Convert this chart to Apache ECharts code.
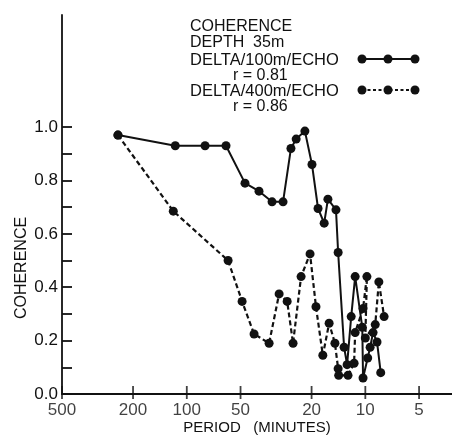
<!DOCTYPE html>
<html><head><meta charset="utf-8">
<script src="https://cdn.jsdelivr.net/npm/echarts@6/dist/echarts.min.js"></script>
<style>html,body{margin:0;padding:0;background:#fff}#c{width:452px;height:439px}</style>
</head><body><div id="c"></div>
<script>
// ---- data ----
const periods100 = [243, 116, 79, 60.3, 47.2, 39.4, 33.3, 28.9, 26.1, 24.4, 21.8, 19.9, 18.4, 17.0, 16.2, 14.6, 14.2, 13.15, 12.65, 12.0, 11.4, 10.4, 10.3, 9.7, 9.4, 9.05, 8.6, 8.2];
const coh100    = [0.97, 0.93, 0.93, 0.93, 0.79, 0.76, 0.72, 0.72, 0.92, 0.955, 0.985, 0.86, 0.695, 0.64, 0.73, 0.69, 0.53, 0.175, 0.11, 0.29, 0.44, 0.25, 0.06, 0.135, 0.175, 0.23, 0.195, 0.08];
const periods400 = [243, 119, 58.7, 49.0, 42.0, 34.6, 30.4, 27.4, 25.4, 22.9, 20.4, 18.9, 17.3, 15.95, 14.8, 14.2, 14.1, 12.5, 11.56, 11.4, 10.3, 9.8, 10.0, 8.8, 8.4, 7.85];
const coh400    = [0.97, 0.685, 0.50, 0.347, 0.225, 0.19, 0.375, 0.347, 0.19, 0.44, 0.525, 0.327, 0.145, 0.265, 0.19, 0.095, 0.07, 0.07, 0.115, 0.23, 0.32, 0.44, 0.21, 0.26, 0.42, 0.29];
const xTickValues = [500, 200, 100, 50, 20, 10, 5];
const yTickValues = [0, 0.1, 0.2, 0.3, 0.4, 0.5, 0.6, 0.7, 0.8, 0.9, 1.0];
const yLabelValues = [0, 0.2, 0.4, 0.6, 0.8, 1.0];
const headerLines = ['COHERENCE', 'DEPTH  35m'];
const seriesNames = ['DELTA/100m/ECHO', 'DELTA/400m/ECHO'];
const rLabels = ['r = 0.81', 'r = 0.86'];
const yAxisTitle = 'COHERENCE';
const xAxisTitle = 'PERIOD   (MINUTES)';

const FONT = '"Liberation Sans", Arial, sans-serif';
const INK = '#111';

const chart = echarts.init(document.getElementById('c'), null, {renderer: 'canvas'});

function legendSample(y, dashed) {
  const xs = [362, 388, 415];
  const els = [{
    type: 'line', shape: {x1: xs[0], y1: y, x2: xs[2], y2: y},
    style: {stroke: INK, lineWidth: dashed ? 2 : 1.9, lineDash: dashed ? [3, 2.5] : null}
  }];
  xs.forEach(x => els.push({type: 'circle', shape: {cx: x, cy: y, r: 4.5}, style: {fill: INK}}));
  return els;
}

const textStyle = (t, x, y, extra) => Object.assign({
  type: 'text', x: x, y: y,
  style: {text: t, font: '16px ' + FONT, fill: INK, textVerticalAlign: 'middle'}
}, extra || {});

const graphics = [
  textStyle(headerLines[0], 190, 27),
  textStyle(headerLines[1], 190, 43),
  {type: 'text', x: 190, y: 60, style: {text: seriesNames[0], font: '16.5px ' + FONT, fill: INK, textVerticalAlign: 'middle'}},
  textStyle(rLabels[0], 233, 76),
  {type: 'text', x: 190, y: 91, style: {text: seriesNames[1], font: '16.5px ' + FONT, fill: INK, textVerticalAlign: 'middle'}},
  textStyle(rLabels[1], 233, 107),
  ...legendSample(59, false),
  ...legendSample(90, true),
  {type: 'text', x: 22, y: 268, rotation: Math.PI / 2,
   style: {text: yAxisTitle, font: '16px ' + FONT, fill: INK, textAlign: 'center', textVerticalAlign: 'middle'}},
  {type: 'text', x: 257, y: 428,
   style: {text: xAxisTitle, font: '15px ' + FONT, fill: INK, textAlign: 'center', textVerticalAlign: 'middle'}}
];

const option = {
  animation: false,
  backgroundColor: '#fff',
  grid: {left: 62, right: 0, top: 15, bottom: 45, containLabel: false},
  xAxis: {
    type: 'log', logBase: 10, min: 3.27, max: 500, inverse: true,
    axisLine: {show: true, lineStyle: {color: INK, width: 1.8}},
    axisTick: {show: false}, axisLabel: {show: false},
    splitLine: {show: false}, minorTick: {show: false}
  },
  yAxis: {
    type: 'value', min: 0, max: 1.42,
    axisLine: {show: true, lineStyle: {color: INK, width: 1.8}},
    axisTick: {show: true, inside: true, length: 10, customValues: yTickValues, lineStyle: {color: INK, width: 1.8}},
    axisLabel: {show: true, customValues: yLabelValues, formatter: v => Number(v).toFixed(1),
                fontSize: 17, fontFamily: FONT, color: INK, margin: 4},
    splitLine: {show: false}
  },
  graphic: graphics,
  series: [
    {
      name: seriesNames[0], type: 'line',
      data: periods100.map((p, i) => [p, coh100[i]]),
      symbol: 'circle', symbolSize: 9, showSymbol: true,
      itemStyle: {color: INK},
      lineStyle: {color: INK, width: 2, type: 'solid'},
      z: 3
    },
    {
      name: seriesNames[1], type: 'line',
      data: periods400.map((p, i) => [p, coh400[i]]),
      symbol: 'circle', symbolSize: 9, showSymbol: true,
      itemStyle: {color: INK},
      lineStyle: {color: INK, width: 2.2, type: [5, 3]},
      z: 3
    },
    {
      name: 'xticks', type: 'scatter', silent: true, clip: false,
      data: xTickValues.map(v => [v, 0]),
      symbol: 'rect', symbolSize: [1.8, 13], symbolOffset: [0, -1.5],
      itemStyle: {color: INK},
      label: {show: true, position: 'bottom', distance: 3, formatter: p => String(p.value[0]),
              fontSize: 17, fontFamily: FONT, color: INK},
      z: 2
    }
  ]
};
chart.setOption(option);
</script>
</body></html>
